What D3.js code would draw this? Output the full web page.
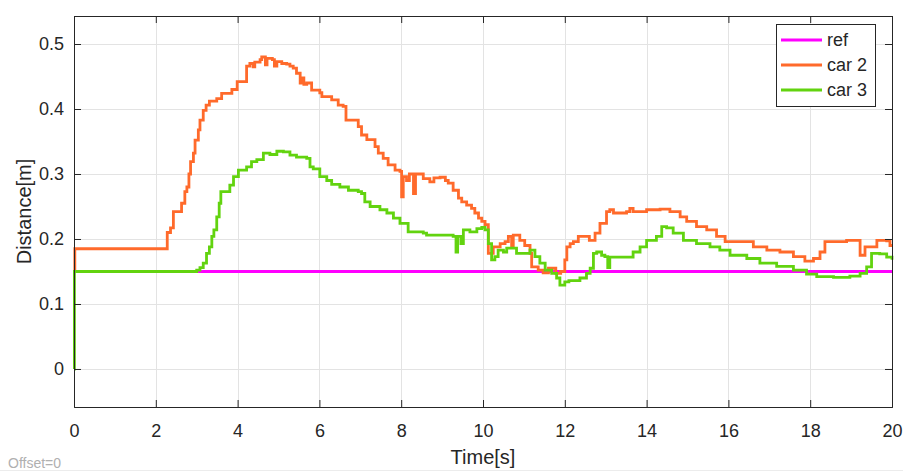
<!DOCTYPE html>
<meta charset="utf-8">
<style>
  body { margin: 0; background: #fff; }
  svg text { font-family: "Liberation Sans", Arial, sans-serif; fill: #262626; }
</style>
<div class="scope"></div>
<script src="https://cdn.jsdelivr.net/npm/d3@7"></script>
<script>
    // time [s] and distance [m]
    var refTime = [0, 20],
        refDist = [0.15, 0.15];

    var car2Time = [0, 0.02, 2.28, 2.36, 2.43, 2.63, 2.71, 2.76, 2.81, 2.85, 2.92, 2.96, 3.04, 3.08, 3.16, 3.23, 3.31, 3.49, 3.61, 3.86, 3.99,
        4.22, 4.30, 4.38, 4.42, 4.55, 4.59, 4.68, 4.72, 4.85, 4.90, 4.96, 5.08, 5.20, 5.28, 5.36, 5.44, 5.53, 5.58, 5.62, 5.69, 5.81,
        6.01, 6.06, 6.30, 6.46, 6.58, 6.65, 6.95, 7.03, 7.16, 7.36, 7.44, 7.56, 7.68, 7.85, 7.97, 8.01, 8.05, 8.13, 8.20, 8.30, 8.35,
        8.54, 8.70, 8.80, 8.95, 9.08, 9.15, 9.27, 9.40, 9.48, 9.60, 9.72, 9.80, 9.89, 9.97, 10.05, 10.13, 10.25, 10.42, 10.54, 10.62,
        10.70, 10.74, 10.90, 11.02, 11.15, 11.19, 11.35, 11.47, 11.60, 11.78, 11.90, 12.00, 12.05, 12.13, 12.21, 12.33, 12.60, 12.74,
        12.86, 13.02, 13.10, 13.19, 13.51, 13.59, 13.67, 14.00, 14.33, 14.57, 14.82, 14.98, 15.22, 15.47, 15.71, 15.92, 16.28, 16.61,
        16.94, 17.26, 17.59, 17.87, 18.08, 18.24, 18.36, 18.89, 19.18, 19.22, 19.34, 19.54, 19.63, 19.87, 19.95, 20];
    var car2Dist = [0.15, 0.185, 0.21, 0.217, 0.242, 0.255, 0.273, 0.28, 0.30, 0.319, 0.332, 0.352, 0.368, 0.383, 0.398, 0.406, 0.412, 0.416, 0.424, 0.430, 0.442,
        0.466, 0.470, 0.465, 0.472, 0.476, 0.480, 0.468, 0.478, 0.476, 0.466, 0.473, 0.470, 0.469, 0.466, 0.463, 0.455, 0.440, 0.448, 0.438, 0.440, 0.429,
        0.425, 0.419, 0.414, 0.406, 0.404, 0.383, 0.373, 0.360, 0.353, 0.342, 0.332, 0.324, 0.314, 0.306, 0.304, 0.265, 0.296, 0.290, 0.300, 0.270, 0.300,
        0.293, 0.288, 0.294, 0.295, 0.290, 0.286, 0.275, 0.263, 0.257, 0.252, 0.247, 0.240, 0.232, 0.227, 0.222, 0.178, 0.188, 0.193, 0.196, 0.204,
        0.190, 0.206, 0.198, 0.190, 0.178, 0.157, 0.152, 0.148, 0.155, 0.147, 0.150, 0.168, 0.188, 0.193, 0.196, 0.204, 0.198, 0.209,
        0.224, 0.242, 0.245, 0.240, 0.242, 0.247, 0.242, 0.245, 0.246, 0.242, 0.234, 0.227, 0.219, 0.214, 0.204, 0.196, 0.196, 0.188,
        0.183, 0.180, 0.173, 0.166, 0.170, 0.180, 0.196, 0.198, 0.198, 0.175, 0.188, 0.188, 0.198, 0.197, 0.190, 0.190];

    var car3Time = [0, 0.01, 3.00, 3.08, 3.16, 3.24, 3.31, 3.37, 3.42, 3.49, 3.55, 3.59, 3.81, 3.90, 4.02, 4.22, 4.34, 4.47, 4.63, 4.79, 4.96,
        5.12, 5.28, 5.44, 5.69, 5.77, 5.85, 6.01, 6.18, 6.30, 6.50, 6.71, 6.95, 7.03, 7.11, 7.24, 7.48, 7.65, 7.81, 7.97, 8.17, 8.54,
        8.62, 9.27, 9.34, 9.38, 9.46, 9.52, 9.68, 9.85, 9.97, 10.05, 10.13, 10.21, 10.29, 10.37, 10.50, 10.58, 10.82, 11.15, 11.27,
        11.39, 11.52, 11.68, 11.80, 11.88, 12.00, 12.10, 12.37, 12.53, 12.62, 12.70, 12.78, 12.90, 12.98, 13.05, 13.10, 13.51, 13.67,
        13.84, 14.00, 14.24, 14.37, 14.49, 14.65, 14.90, 15.22, 15.55, 15.79, 16.04, 16.45, 16.77, 17.18, 17.59, 17.91, 18.16, 18.57,
        18.97, 19.22, 19.38, 19.50, 19.70, 19.87, 20];
    var car3Dist = [0, 0.15, 0.152, 0.156, 0.163, 0.178, 0.188, 0.204, 0.214, 0.234, 0.255, 0.273, 0.283, 0.296, 0.306, 0.311, 0.319, 0.322, 0.332, 0.330, 0.335,
        0.334, 0.329, 0.326, 0.324, 0.311, 0.308, 0.296, 0.290, 0.284, 0.280, 0.275, 0.273, 0.270, 0.257, 0.250, 0.245, 0.240, 0.232, 0.224, 0.211, 0.209,
        0.206, 0.204, 0.180, 0.204, 0.193, 0.214, 0.211, 0.216, 0.218, 0.214, 0.193, 0.168, 0.173, 0.183, 0.180, 0.186, 0.178, 0.183, 0.173,
        0.163, 0.152, 0.147, 0.140, 0.129, 0.134, 0.136, 0.140, 0.147, 0.155, 0.178, 0.180, 0.175, 0.173, 0.156, 0.172, 0.172, 0.180,
        0.188, 0.198, 0.204, 0.219, 0.217, 0.209, 0.198, 0.193, 0.188, 0.183, 0.175, 0.170, 0.163, 0.158, 0.152, 0.146, 0.142, 0.141,
        0.143, 0.147, 0.157, 0.178, 0.177, 0.172, 0.168];

    var xTicks = [0, 2, 4, 6, 8, 10, 12, 14, 16, 18, 20],
        yTicks = [0, 0.1, 0.2, 0.3, 0.4, 0.5];

    var series = [
        {name: "ref", color: "#ff00ff", t: refTime, v: refDist},
        {name: "car 2", color: "#ff6a2b", t: car2Time, v: car2Dist},
        {name: "car 3", color: "#62d30f", t: car3Time, v: car3Dist}
    ];

    var width = 903, height = 472,
        margin = {top: 16, right: 11, bottom: 65, left: 74};

    var x = d3.scaleLinear().domain([0, 20]).range([margin.left, width - margin.right]);
    var y = d3.scaleLinear().domain([-0.0585, 0.5431]).range([height - margin.bottom, margin.top]);

    var svg = d3.select(".scope").append("svg")
        .attr("width", width)
        .attr("height", height);

    // grid
    svg.append("g").selectAll("line").data(xTicks).enter().append("line")
        .attr("x1", d => Math.round(x(d)) + 0.5).attr("x2", d => Math.round(x(d)) + 0.5)
        .attr("y1", y.range()[1]).attr("y2", y.range()[0])
        .attr("stroke", "#e3e3e3");
    svg.append("g").selectAll("line").data(yTicks).enter().append("line")
        .attr("y1", d => Math.round(y(d)) + 0.5).attr("y2", d => Math.round(y(d)) + 0.5)
        .attr("x1", x.range()[0]).attr("x2", x.range()[1])
        .attr("stroke", "#e3e3e3");

    // lines
    var line = d3.line()
        .x(d => x(d[0]))
        .y(d => y(d[1]))
        .curve(d3.curveStepAfter);

    svg.append("g").selectAll("path").data(series).enter().append("path")
        .attr("d", s => line(s.t.map((t, i) => [t, s.v[i]])))
        .attr("fill", "none")
        .attr("stroke", s => s.color)
        .attr("stroke-width", 2.8);

    // axes, ticks inside on all four sides
    var tickSize = 7;
    var xAxis = d3.axisBottom(x).tickValues(xTicks).tickSize(-tickSize).tickPadding(tickSize + 10).tickFormat(d3.format("d"));
    var yAxis = d3.axisLeft(y).tickValues(yTicks).tickSize(-tickSize).tickPadding(tickSize + 3).tickFormat(d => d === 0 ? "0" : d3.format(".1f")(d));

    svg.append("g").attr("class", "x axis")
        .attr("transform", "translate(0," + (height - margin.bottom) + ")")
        .call(xAxis);
    svg.append("g").attr("class", "y axis")
        .attr("transform", "translate(" + margin.left + ",0)")
        .call(yAxis);
    svg.append("g")
        .attr("transform", "translate(0," + margin.top + ")")
        .call(d3.axisTop(x).tickValues(xTicks).tickSize(-tickSize).tickFormat(""));
    svg.append("g")
        .attr("transform", "translate(" + (width - margin.right) + ",0)")
        .call(d3.axisRight(y).tickValues(yTicks).tickSize(-tickSize).tickFormat(""));

    svg.selectAll(".domain").attr("stroke", "#262626");
    svg.selectAll(".tick line").attr("stroke", "#262626");
    svg.selectAll(".axis text").attr("font-size", 18).attr("fill", "#262626")
        .attr("font-family", "Liberation Sans, Arial, sans-serif");

    // axis labels
    svg.append("text")
        .attr("x", x(10)).attr("y", 464)
        .attr("text-anchor", "middle")
        .attr("font-size", 20)
        .text("Time[s]");
    svg.append("text")
        .attr("transform", "translate(31," + ((margin.top + height - margin.bottom) / 2) + ") rotate(-90)")
        .attr("text-anchor", "middle")
        .attr("font-size", 20)
        .text("Distance[m]");

    svg.append("text")
        .attr("x", 8).attr("y", 468)
        .attr("font-size", 14)
        .style("fill", "#b0b0b0")
        .text("Offset=0");
    svg.append("line")
        .attr("x1", 0).attr("x2", width).attr("y1", 470.5).attr("y2", 470.5)
        .attr("stroke", "#ececec");

    // legend
    var legend = svg.append("g").attr("transform", "translate(776,24)");
    legend.append("rect")
        .attr("x", 0.5).attr("y", 0.5)
        .attr("width", 99).attr("height", 82)
        .attr("fill", "#fff")
        .attr("stroke", "#262626");
    var item = legend.selectAll(".item").data(series).enter().append("g")
        .attr("class", "item")
        .attr("transform", (d, i) => "translate(0," + (16 + i * 25) + ")");
    item.append("line")
        .attr("x1", 5).attr("x2", 46)
        .attr("stroke", d => d.color)
        .attr("stroke-width", 2.8);
    item.append("text")
        .attr("x", 51).attr("dy", "0.35em")
        .attr("font-size", 18)
        .text(d => d.name);
</script>
